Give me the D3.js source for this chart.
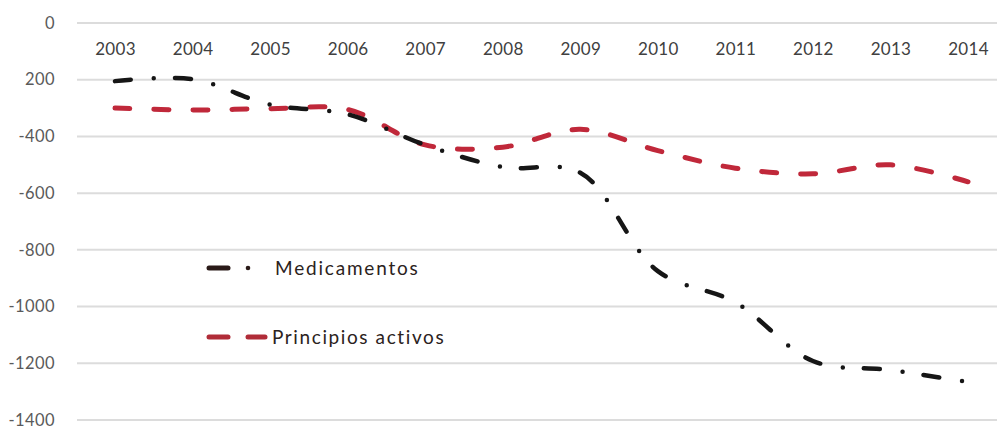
<!DOCTYPE html>
<html>
<head>
<meta charset="utf-8">
<script src="https://cdn.jsdelivr.net/npm/d3@7"></script>
<style>
  html, body { margin: 0; padding: 0; background: #ffffff; }
  svg { display: block; }
</style>
</head>
<body>
<svg id="chart" width="997" height="431"></svg>
<script>
// Years on the category axis
const years = ["2003","2004","2005","2006","2007","2008","2009","2010","2011","2012","2013","2014"];
// Series values
const medicamentos = [-205, -198, -288, -322, -430, -508, -528, -875, -985, -1192, -1224, -1266];
const principiosActivos = [-300, -307, -302, -305, -430, -438, -375, -450, -512, -532, -500, -560];
// Y tick values and their labels
const yTicks = [0, -200, -400, -600, -800, -1000, -1200, -1400];
const yTickLabels = ["0", "200", "-400", "-600", "-800", "-1000", "-1200", "-1400"];
// Legend entries
const seriesNames = ["Medicamentos", "Principios activos"];

const svg = d3.select("#chart");
const font = "Lato, 'Open Sans', sans-serif";

const x = d3.scalePoint().domain(years).range([115, 968]);
const y = d3.scaleLinear().domain([-1400, 0]).range([420, 23]);

// Horizontal gridlines
svg.append("g")
  .selectAll("line")
  .data(yTicks)
  .join("line")
  .attr("x1", 77).attr("x2", 997)
  .attr("y1", d => y(d)).attr("y2", d => y(d))
  .attr("stroke", "#dcdcdc")
  .attr("stroke-width", 2);

// Y axis labels
const yAxis = svg.append("g")
  .attr("transform", "translate(58,0)")
  .call(d3.axisLeft(y).tickValues(yTicks).tickSize(0).tickPadding(3)
    .tickFormat((d, i) => yTickLabels[i]));
yAxis.select(".domain").remove();
yAxis.selectAll("text")
  .attr("font-family", font)
  .attr("font-size", 16.5)
  .attr("letter-spacing", 0.4)
  .attr("fill", "#5a5a5a");

// Year labels just under the zero line
const xAxis = svg.append("g")
  .attr("transform", "translate(0,49)")
  .call(d3.axisBottom(x).tickSize(0).tickPadding(0));
xAxis.select(".domain").remove();
xAxis.selectAll("text")
  .attr("dy", "0.35em")
  .attr("font-family", font)
  .attr("font-size", 17)
  .attr("letter-spacing", 0.3)
  .attr("fill", "#404040");

const line = d3.line()
  .x((d, i) => x(years[i]))
  .y(d => y(d))
  .curve(d3.curveCatmullRom.alpha(0.5));

// Principios activos: red dashed
svg.append("path")
  .datum(principiosActivos)
  .attr("d", line)
  .attr("fill", "none")
  .attr("stroke", "#c0283a")
  .attr("stroke-width", 5)
  .attr("stroke-linecap", "round")
  .attr("stroke-dasharray", "15 24");

// Medicamentos: black dash-dot
svg.append("path")
  .datum(medicamentos)
  .attr("d", line)
  .attr("fill", "none")
  .attr("stroke", "#161616")
  .attr("stroke-width", 4.5)
  .attr("stroke-linecap", "round")
  .attr("stroke-dasharray", "16 23 0 21");

// Legend
const legend = svg.append("g");
const lg0 = legend.append("g").attr("transform", "translate(0,268)");
lg0.append("line").attr("x1", 209).attr("x2", 228).attr("y1", 0).attr("y2", 0)
  .attr("stroke", "#2a1a18").attr("stroke-width", 5).attr("stroke-linecap", "round");
lg0.append("circle").attr("cx", 248).attr("cy", 0).attr("r", 2.3).attr("fill", "#2a1a18");
lg0.append("text").attr("x", 275).attr("y", 0).attr("dy", "0.35em")
  .attr("font-family", font).attr("font-size", 19).attr("letter-spacing", 1.8)
  .attr("fill", "#2b2220")
  .text(seriesNames[0]);

const lg1 = legend.append("g").attr("transform", "translate(0,337)");
lg1.append("line").attr("x1", 209).attr("x2", 228).attr("y1", 0).attr("y2", 0)
  .attr("stroke", "#b02c38").attr("stroke-width", 5).attr("stroke-linecap", "round");
lg1.append("line").attr("x1", 248).attr("x2", 265).attr("y1", 0).attr("y2", 0)
  .attr("stroke", "#b02c38").attr("stroke-width", 5).attr("stroke-linecap", "round");
lg1.append("text").attr("x", 272).attr("y", 0).attr("dy", "0.35em")
  .attr("font-family", font).attr("font-size", 19).attr("letter-spacing", 1.6)
  .attr("fill", "#2b2220")
  .text(seriesNames[1]);
</script>
</body>
</html>
